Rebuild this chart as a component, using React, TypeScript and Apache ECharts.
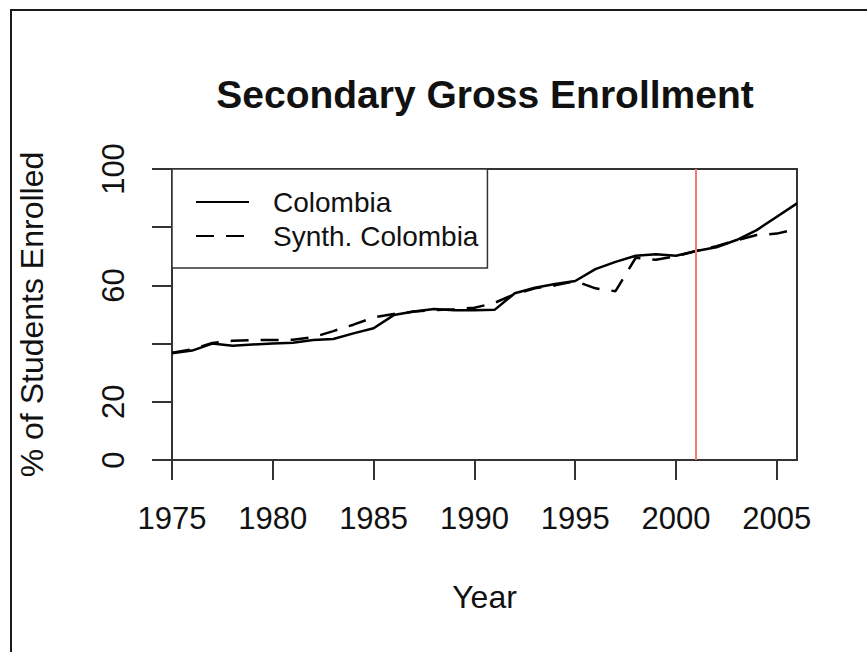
import React, { useEffect, useRef } from "react";
import * as echarts from "echarts";

const years = [1975,1976,1977,1978,1979,1980,1981,1982,1983,1984,1985,1986,1987,1988,1989,1990,1991,1992,1993,1994,1995,1996,1997,1998,1999,2000,2001,2002,2003,2004,2005,2006];
const colombia = [36.7,37.6,40.0,39.3,39.7,40.0,40.3,41.2,41.6,43.5,45.3,49.8,51.0,51.9,51.5,51.5,51.6,57.3,59.2,60.5,61.5,65.6,68.1,70.2,70.7,70.2,71.8,73.1,75.6,79.0,83.6,88.2];
const synthColombia = [36.9,38.0,40.2,41.0,41.2,41.2,41.3,42.2,44.3,46.5,49.0,50.2,51.0,51.5,51.8,52.3,54.0,57.0,59.0,60.0,61.5,59.0,58.0,69.5,68.8,70.0,71.8,73.5,75.5,77.3,77.8,79.4];
const xTicks = [1975,1980,1985,1990,1995,2000,2005];
const yTicks = [0,20,40,60,80,100];
const yLabels = [0,20,60,100];
const treatmentYear = 2001;

const FONT = "'Liberation Sans', Arial, Helvetica, sans-serif";

export default function App() {
  const ref = useRef<HTMLDivElement>(null);
  useEffect(() => {
    if (!ref.current) return;
    const chart = echarts.init(ref.current, undefined, { renderer: "svg" });
    const toPairs = (arr: number[]) => years.map((y, i) => [y, arr[i]]);
    chart.setOption({
      animation: false,
      backgroundColor: "#ffffff",
      textStyle: { fontFamily: FONT },
      title: {
        text: "Secondary Gross Enrollment",
        left: 480,
        textAlign: "center",
        top: 70,
        textStyle: { fontFamily: FONT, fontSize: 39, fontWeight: "bold", color: "#111" },
      },
      graphic: [
        {
          type: "rect",
          shape: { x: 11, y: 10, width: 1000, height: 1000 },
          style: { fill: "none", stroke: "#1a1a1a", lineWidth: 2 },
          silent: true,
        },
      ],
      legend: {
        left: 172,
        top: 169,
        orient: "vertical",
        padding: [19, 9, 18, 23],
        itemGap: 6,
        itemWidth: 53,
        itemHeight: 14,
        borderColor: "#333",
        borderWidth: 1.5,
        backgroundColor: "#fff",
        itemStyle: { opacity: 0 },
        textStyle: { fontFamily: FONT, fontSize: 28, color: "#111", padding: [0, 0, 0, 19] },
        data: ["Colombia", "Synth. Colombia"],
      },
      grid: {
        left: 172,
        top: 169,
        right: 70,
        bottom: 192,
        show: true,
        borderColor: "#333",
        borderWidth: 2,
        backgroundColor: "transparent",
      },
      xAxis: {
        type: "value",
        min: 1975,
        max: 2006,
        name: "Year",
        nameLocation: "middle",
        nameGap: 121,
        nameTextStyle: { fontFamily: FONT, fontSize: 32, color: "#111" },
        axisLine: { show: true, lineStyle: { color: "#333", width: 2 } },
        axisTick: { show: true, length: 20, customValues: xTicks, lineStyle: { color: "#333", width: 2 } },
        axisLabel: {
          customValues: xTicks,
          margin: 43,
          fontFamily: FONT,
          fontSize: 31,
          color: "#111",
          formatter: (v: number) => String(v),
        },
        splitLine: { show: false },
      },
      yAxis: {
        type: "value",
        min: 0,
        max: 100,
        name: "% of Students Enrolled",
        nameLocation: "middle",
        nameGap: 124,
        nameRotate: 90,
        nameTextStyle: { fontFamily: FONT, fontSize: 32, color: "#111" },
        axisLine: { show: true, lineStyle: { color: "#333", width: 2 } },
        axisTick: { show: true, length: 20, customValues: yTicks, lineStyle: { color: "#333", width: 2 } },
        axisLabel: { customValues: yLabels, rotate: 90, margin: 43, fontFamily: FONT, fontSize: 31, color: "#111" },
        splitLine: { show: false },
      },
      series: [
        {
          name: "Colombia",
          type: "line",
          data: toPairs(colombia),
          symbol: "none",
          lineStyle: { color: "#000", width: 2.5 },
          itemStyle: { color: "#000" },
          z: 3,
          markLine: {
            silent: true,
            symbol: "none",
            label: { show: false },
            lineStyle: { color: "#f47878", width: 2, type: "solid" },
            data: [{ xAxis: treatmentYear }],
          },
        },
        {
          name: "Synth. Colombia",
          type: "line",
          data: toPairs(synthColombia),
          symbol: "none",
          lineStyle: { color: "#000", width: 2.5, type: [18, 12] },
          itemStyle: { color: "#000" },
          z: 2,
        },
      ],
    });
    return () => chart.dispose();
  }, []);
  return (
    <div
      ref={ref}
      style={{ position: "fixed", left: 0, top: 0, width: 867, height: 652 }}
    />
  );
}
